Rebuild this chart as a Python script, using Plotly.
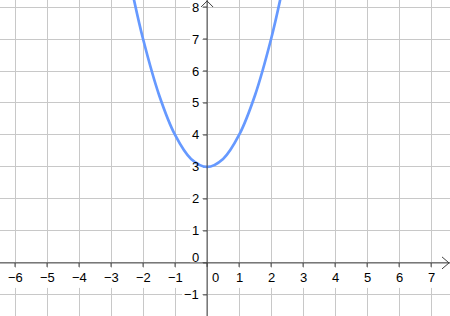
import plotly.graph_objects as go

# Data (y ≈ x² + 3)
curve_x = [-2.3, -2.0, -1.5, -1.0, -0.5, 0.0, 0.5, 1.0, 1.5, 2.0, 2.3]
curve_y = [8.3, 7.0, 5.25, 4.0, 3.25, 3.0, 3.25, 4.0, 5.25, 7.0, 8.3]

x_ticks = [-6, -5, -4, -3, -2, -1, 0, 1, 2, 3, 4, 5, 6, 7]
y_ticks = [-1, 0, 1, 2, 3, 4, 5, 6, 7, 8]

X_RANGE = [-6.47, 7.59]
Y_RANGE = [-1.66, 8.22]
W, H = 450, 316
ux = (X_RANGE[1] - X_RANGE[0]) / W  # data units per pixel
uy = (Y_RANGE[1] - Y_RANGE[0]) / H

AXIS = "#404040"
GRID = "#c8c8c8"
FONT = dict(family="Liberation Sans, Arial, sans-serif", size=13, color="#000000")


def lab(v):
    return ("\u2212" + str(-v)) if v < 0 else str(v)


fig = go.Figure()

# tick marks on the axes
tx, ty = [], []
for t in x_ticks:
    tx += [t, t, None]
    ty += [0, -4 * uy, None]
for t in y_ticks:
    tx += [0, -4 * ux, None]
    ty += [t, t, None]
fig.add_trace(go.Scatter(x=tx, y=ty, mode="lines", line=dict(color=AXIS, width=1),
                         hoverinfo="skip", showlegend=False))

fig.add_trace(go.Scatter(x=curve_x, y=curve_y, mode="lines", line_shape="spline",
                         line=dict(color="#6699ff", width=2.7), showlegend=False))

annotations = []
shapes = []
for t in x_ticks:
    cx = t + (8 * ux if t == 0 else 0)
    cy = -15 * uy
    annotations.append(dict(x=cx, y=cy, text=lab(t),
                            showarrow=False, xanchor="center", yanchor="middle",
                            font=FONT))
    w = 8 * len(lab(t)) + 4
    shapes.append(dict(type="rect", xref="x", yref="y", layer="between",
                       x0=cx - w / 2 * ux, x1=cx + w / 2 * ux,
                       y0=cy - 10 * uy, y1=cy + 10 * uy,
                       fillcolor="white", line=dict(width=0)))
for t in y_ticks:
    cy = t + (5 * uy if t == 0 else 0)
    rx = -6 * ux
    annotations.append(dict(x=rx, y=cy, text=lab(t),
                            showarrow=False, xanchor="right", yanchor="middle",
                            font=FONT))
    w = 8 * len(lab(t)) + 3
    shapes.append(dict(type="rect", xref="x", yref="y", layer="between",
                       x0=rx - w * ux, x1=rx + 1 * ux,
                       y0=cy - 8 * uy, y1=cy + 8 * uy,
                       fillcolor="white", line=dict(width=0)))

shapes += [
    # x axis and y axis
    dict(type="line", xref="x", yref="y", x0=X_RANGE[0], x1=X_RANGE[1], y0=0, y1=0,
         line=dict(color=AXIS, width=1)),
    dict(type="line", xref="x", yref="y", x0=0, x1=0, y0=Y_RANGE[0], y1=Y_RANGE[1],
         line=dict(color=AXIS, width=1)),
    # open arrow heads
    dict(type="path", xref="x", yref="y",
         path=f"M {-6*ux} {Y_RANGE[1]-7*uy} L 0 {Y_RANGE[1]-1*uy} L {6*ux} {Y_RANGE[1]-7*uy}",
         line=dict(color=AXIS, width=1)),
    dict(type="path", xref="x", yref="y",
         path=f"M {X_RANGE[1]-8*ux} {6*uy} L {X_RANGE[1]-1*ux} 0 L {X_RANGE[1]-8*ux} {-6*uy}",
         line=dict(color=AXIS, width=1)),
]

fig.update_layout(
    width=W, height=H, margin=dict(l=0, r=0, t=0, b=0),
    paper_bgcolor="white", plot_bgcolor="white",
    xaxis=dict(range=X_RANGE, tickvals=x_ticks, showticklabels=False, showgrid=True,
               gridcolor=GRID, gridwidth=1, zeroline=False, showline=False, fixedrange=True),
    yaxis=dict(range=Y_RANGE, tickvals=y_ticks, showticklabels=False, showgrid=True,
               gridcolor=GRID, gridwidth=1, zeroline=False, showline=False, fixedrange=True),
    annotations=annotations, shapes=shapes, showlegend=False,
)

fig.write_html("out.html")
